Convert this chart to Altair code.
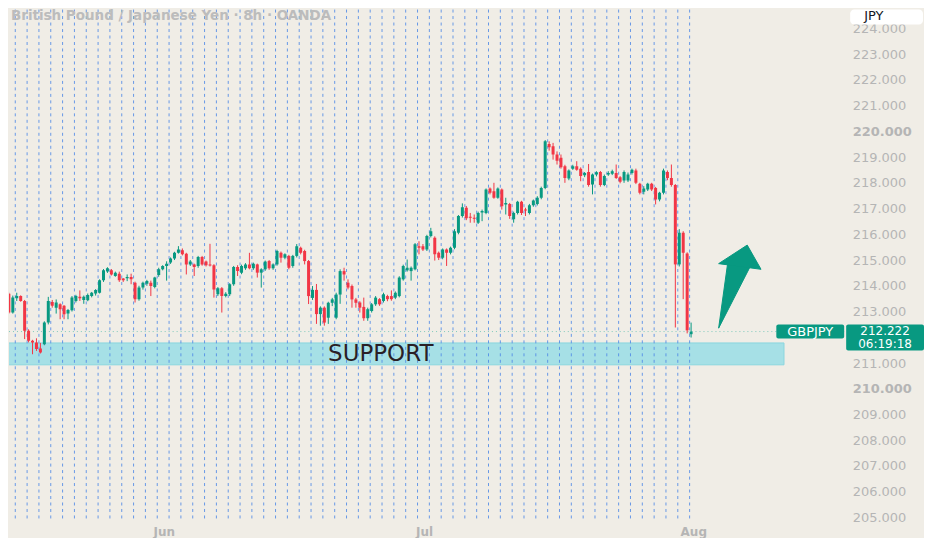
import altair as alt
import pandas as pd

# ---------------- data ----------------
opens = [213.69, 212.96, 213.52, 213.60, 213.41, 212.25, 211.86, 211.80, 211.56, 211.73,
         212.57, 213.37, 213.15, 213.28, 213.22, 212.92, 213.05, 213.41, 213.57, 213.45,
         213.44, 213.60, 213.70, 213.73, 214.21, 214.55, 214.60, 214.38, 214.47, 214.28,
         214.29, 214.34, 214.12, 213.48, 213.93, 214.08, 214.12, 213.95, 214.42, 214.64,
         214.77, 214.90, 215.06, 215.28, 215.38, 215.24, 214.83, 214.83, 214.77, 215.12,
         214.94, 214.83, 214.80, 213.67, 213.90, 213.60, 213.67, 214.06, 214.73, 214.51,
         214.68, 214.83, 214.68, 214.83, 214.51, 214.64, 214.96, 214.68, 214.83, 215.28,
         215.09, 215.16, 214.77, 215.16, 215.48, 215.35, 214.96, 213.53, 213.84, 212.90,
         213.15, 212.76, 213.34, 212.76, 213.66, 214.57, 214.12, 213.99, 213.47, 213.35,
         213.18, 212.74, 213.02, 213.28, 213.48, 213.41, 213.60, 213.60, 213.54, 213.60,
         214.25, 214.60, 214.57, 214.64, 215.54, 215.54, 215.41, 215.93, 215.87, 215.28,
         215.09, 215.41, 215.28, 215.48, 216.06, 216.71, 217.03, 216.68, 216.64, 216.45,
         216.85, 216.83, 217.78, 217.67, 217.42, 217.74, 217.16, 217.18, 216.58, 216.83,
         217.26, 216.96, 216.83, 217.13, 217.18, 217.42, 217.80, 219.51, 219.42, 219.10,
         218.97, 218.64, 218.17, 218.55, 218.64, 218.55, 218.29, 218.42, 217.93, 218.32,
         218.42, 217.91, 218.32, 218.35, 218.38, 218.22, 218.09, 218.09, 218.38, 218.48,
         217.96, 217.65, 217.74, 217.96, 217.80, 217.35, 217.61, 218.42, 218.19, 217.91,
         214.83, 216.06, 215.25, 212.12]
highs = [213.73, 213.62, 213.73, 213.63, 213.45, 212.31, 211.90, 211.96, 211.78, 212.62,
         213.57, 213.45, 213.47, 213.32, 213.25, 213.10, 213.60, 213.65, 213.82, 213.62,
         213.70, 213.76, 213.87, 214.25, 214.65, 214.72, 214.65, 214.55, 214.55, 214.30,
         214.44, 214.47, 214.16, 214.00, 214.16, 214.23, 214.20, 214.35, 214.70, 214.80,
         214.95, 215.10, 215.32, 215.54, 215.45, 215.28, 215.00, 214.86, 215.16, 215.16,
         214.98, 215.63, 214.84, 213.95, 213.95, 213.75, 214.10, 214.77, 214.80, 214.82,
         214.88, 215.28, 214.90, 214.86, 214.68, 214.98, 215.00, 214.87, 215.40, 215.33,
         215.26, 215.20, 215.20, 215.62, 215.52, 215.40, 215.00, 213.99, 214.07, 213.20,
         213.20, 213.38, 213.53, 213.73, 214.64, 214.70, 214.25, 214.05, 213.53, 213.40,
         213.54, 213.15, 213.33, 213.60, 213.52, 213.73, 213.65, 213.82, 213.78, 214.37,
         214.82, 215.02, 214.75, 215.66, 215.73, 215.62, 215.98, 216.25, 215.92, 215.33,
         215.45, 215.45, 215.52, 216.20, 216.75, 217.20, 217.10, 216.83, 216.77, 216.88,
         216.96, 217.78, 217.82, 218.00, 217.82, 217.78, 217.42, 217.22, 216.88, 217.30,
         217.30, 217.03, 217.18, 217.35, 217.48, 217.85, 219.66, 219.61, 219.55, 219.22,
         219.10, 218.70, 218.52, 218.70, 218.84, 218.60, 218.42, 218.73, 218.36, 218.45,
         218.46, 218.32, 218.45, 218.51, 218.71, 218.26, 218.48, 218.40, 218.55, 218.55,
         218.00, 217.87, 218.00, 218.00, 217.84, 217.65, 218.55, 218.48, 218.71, 217.95,
         216.20, 216.12, 215.30, 212.57]
lows = [212.92, 212.92, 213.41, 213.38, 211.93, 211.80, 211.34, 211.47, 211.37, 211.69,
        212.50, 213.15, 212.92, 212.70, 212.70, 212.70, 213.00, 213.35, 213.41, 213.30,
        213.40, 213.55, 213.62, 213.70, 214.15, 214.50, 214.40, 214.35, 214.15, 214.15,
        214.18, 214.06, 213.35, 213.42, 213.85, 214.00, 213.60, 213.90, 214.35, 214.60,
        214.20, 214.85, 215.00, 215.25, 215.18, 214.44, 214.77, 214.38, 214.70, 214.78,
        214.75, 214.75, 213.54, 213.60, 212.96, 213.55, 213.60, 214.00, 214.38, 214.45,
        214.62, 214.64, 214.62, 214.32, 213.93, 214.58, 214.62, 214.62, 214.78, 214.90,
        215.03, 214.64, 214.70, 215.10, 215.22, 214.83, 213.29, 213.45, 212.52, 212.45,
        212.45, 212.52, 213.21, 212.70, 213.30, 214.20, 213.86, 213.15, 213.15, 212.96,
        212.64, 212.64, 212.96, 213.22, 213.22, 213.35, 213.40, 213.42, 213.48, 213.55,
        214.20, 214.55, 214.20, 214.60, 215.22, 215.35, 215.35, 215.88, 214.98, 215.00,
        215.03, 214.77, 215.22, 215.42, 216.00, 216.65, 216.55, 216.45, 216.45, 216.40,
        216.51, 216.78, 217.55, 217.38, 217.38, 216.96, 216.77, 216.60, 216.45, 216.77,
        216.75, 216.71, 216.77, 217.07, 217.12, 217.36, 217.75, 219.25, 218.90, 218.71,
        218.55, 218.00, 218.10, 218.50, 218.47, 218.06, 218.22, 217.85, 217.55, 218.25,
        217.85, 217.87, 218.27, 218.30, 218.15, 217.98, 218.00, 218.03, 218.32, 217.95,
        217.55, 217.55, 217.68, 217.68, 217.16, 217.28, 217.55, 218.10, 217.85, 212.38,
        214.75, 213.48, 212.15, 211.99]
closes = [212.96, 213.54, 213.60, 213.41, 212.25, 211.86, 211.80, 211.54, 211.41, 212.57,
          213.41, 213.22, 213.35, 213.09, 212.89, 213.06, 213.54, 213.60, 213.52, 213.57,
          213.64, 213.73, 213.84, 214.21, 214.60, 214.68, 214.44, 214.51, 214.21, 214.21,
          214.34, 214.25, 213.48, 213.93, 214.12, 214.19, 213.99, 214.32, 214.64, 214.77,
          214.86, 215.06, 215.28, 215.41, 215.22, 214.83, 214.94, 214.73, 215.12, 214.83,
          214.80, 214.79, 213.86, 213.90, 213.60, 213.69, 214.06, 214.73, 214.57, 214.77,
          214.83, 214.68, 214.86, 214.51, 214.64, 214.94, 214.68, 214.83, 215.35, 215.09,
          215.22, 214.70, 215.16, 215.54, 215.28, 214.96, 213.60, 213.84, 212.90, 213.15,
          212.57, 213.34, 213.47, 213.66, 214.57, 214.44, 213.93, 213.47, 213.34, 213.15,
          212.74, 213.09, 213.28, 213.54, 213.28, 213.67, 213.48, 213.48, 213.73, 214.32,
          214.77, 214.70, 214.70, 215.61, 215.48, 215.41, 215.93, 216.12, 215.22, 215.09,
          215.41, 215.28, 215.48, 216.12, 216.71, 217.05, 216.62, 216.64, 216.60, 216.83,
          216.90, 217.74, 217.61, 217.42, 217.78, 217.09, 217.22, 216.71, 216.83, 217.26,
          216.83, 216.92, 217.13, 217.31, 217.42, 217.80, 219.61, 219.38, 219.10, 218.86,
          218.60, 218.19, 218.48, 218.64, 218.51, 218.26, 218.38, 217.91, 218.32, 218.41,
          217.91, 218.26, 218.38, 218.45, 218.19, 218.04, 218.42, 218.32, 218.51, 218.00,
          217.61, 217.78, 217.96, 217.74, 217.35, 217.61, 218.48, 218.19, 217.91, 214.83,
          216.06, 215.28, 212.27, 212.22]

# day separators (every 3 eight-hour candles)
day_lines = [1.625 + 3 * k for k in range(58)]

month_labels = ["Jun", "Jul", "Aug"]
month_pos = [39.3, 105.3, 173.55]

# price labels visible on the scale (212.000 is hidden behind the last-price tag)
price_ticks = [205, 206, 207, 208, 209, 210, 211, 213, 214, 215, 216, 217, 218,
               219, 220, 221, 222, 223, 224]

title_text = "British Pound / Japanese Yen · 8h · OANDA"
symbol = "GBPJPY"
currency = "JPY"
last_price = 212.222
countdown = "06:19:18"

support_text = "SUPPORT"
support_lo, support_hi = 210.93, 211.78
support_x0, support_x1 = -5, 196.55
support_label_x = 94.3

# arrow drawn as two triangles: shaft (tail, left joint, right joint) and head
arrow_part = ["shaft", "shaft", "shaft", "head", "head", "head"]
arrow_x = [179.98, 182.23, 188.05, 179.98, 187.23, 190.73]
arrow_y = [212.353, 214.833, 214.767, 214.86, 215.581, 214.64]

# ---------------- styling ----------------
BG = "#f0ede6"
GREEN = "#089981"
RED = "#f23645"
GRID = "#4f89e6"
AXIS_GREY = "#b5b5b5"
FONT = "DejaVu Sans"

W, H = 837, 512
xscale = alt.Scale(domain=[1.3, 210.55], nice=False, zero=False)
yscale = alt.Scale(domain=[204.884, 224.729], nice=False, zero=False)

label_expr = " : ".join(
    f"datum.value < {p + 5} ? '{m}'" for p, m in zip(month_pos[:-1], month_labels[:-1])
) + f" : '{month_labels[-1]}'"

xaxis = alt.Axis(values=month_pos, labelExpr=label_expr, ticks=False, domain=False,
                 grid=False, labelFont=FONT, labelFontSize=12, labelFontWeight="bold",
                 labelColor=AXIS_GREY, labelPadding=6, title=None, labelFlush=False)
yaxis = alt.Axis(orient="right", values=price_ticks, format=".3f", ticks=False,
                 domain=False, grid=False, labelFont=FONT, labelFontSize=13,
                 labelColor=AXIS_GREY, labelPadding=8, title=None,
                 labelFontWeight={"condition": {"test": "datum.value % 10 === 0",
                                                "value": "bold"}, "value": "normal"})

candles = pd.DataFrame({"i": list(range(len(opens))), "open": opens, "high": highs,
                        "low": lows, "close": closes})
color_cond = alt.condition("datum.open > datum.close", alt.value(RED), alt.value(GREEN))

X = lambda f: alt.X(f, scale=xscale, axis=xaxis)
Y = lambda f: alt.Y(f, scale=yscale, axis=yaxis)

support = alt.Chart(pd.DataFrame({"x0": [support_x0], "x1": [support_x1],
                                  "lo": [support_lo], "hi": [support_hi]})).mark_rect(
    fill="#a6e0e6", stroke="#8ad6df", strokeWidth=1, clip=True
).encode(x=X("x0:Q"), x2="x1:Q", y=Y("lo:Q"), y2="hi:Q")

grid = alt.Chart(pd.DataFrame({"d": day_lines})).mark_rule(
    color=GRID, strokeWidth=1, strokeDash=[3, 3.5], opacity=0.85
).encode(x=X("d:Q"))

last_rule = alt.Chart(pd.DataFrame({"p": [last_price]})).mark_rule(
    color="#7fc9bc", strokeWidth=1, strokeDash=[1, 3]
).encode(y=Y("p:Q"))

wicks = alt.Chart(candles).mark_rule(strokeWidth=1, clip=True).encode(
    x=X("i:Q"), y=Y("low:Q"), y2="high:Q", color=color_cond)

bodies = alt.Chart(candles).mark_bar(size=3, clip=True).encode(
    x=X("i:Q"), y=Y("open:Q"), y2="close:Q", color=color_cond)

arrow = alt.Chart(pd.DataFrame({"ax": arrow_x, "ay": arrow_y, "part": arrow_part,
                                "o": list(range(len(arrow_x)))})).mark_line(
    fill=GREEN, stroke=GREEN, strokeWidth=1, strokeJoin="round",
    interpolate="linear-closed"
).encode(x=X("ax:Q"), y=Y("ay:Q"), detail="part:N",
         order=alt.Order("o:Q", sort="ascending"))

title = alt.Chart(pd.DataFrame({"t": [title_text]})).mark_text(
    align="left", baseline="middle", font=FONT, fontSize=13.5, fontWeight="bold",
    color="#bcbcbc"
).encode(x=alt.value(2), y=alt.value(6), text="t:N")

support_lbl = alt.Chart(pd.DataFrame({"t": [support_text], "x": [support_label_x],
                                      "y": [(support_lo + support_hi) / 2]})).mark_text(
    align="center", baseline="middle", font=FONT, fontSize=23, color="#2a1f26"
).encode(x=X("x:Q"), y=Y("y:Q"), text="t:N")

lp = pd.DataFrame({"p": [last_price], "sym": [symbol],
                   "ps": [f"{last_price:.3f}"], "cd": [countdown]})

sym_box = alt.Chart(lp).mark_rect(fill=GREEN, cornerRadius=2, yOffset=-7, y2Offset=7).encode(
    x=alt.value(769), x2=alt.value(837), y=Y("p:Q"), y2="p:Q")
sym_txt = alt.Chart(lp).mark_text(font=FONT, fontSize=13, color="white",
                                  baseline="middle", align="center").encode(
    x=alt.value(803), y=Y("p:Q"), text="sym:N")

price_box = alt.Chart(lp).mark_rect(fill=GREEN, cornerRadius=2, yOffset=-7, y2Offset=19).encode(
    x=alt.value(839), x2=alt.value(917), y=Y("p:Q"), y2="p:Q")
price_txt = alt.Chart(lp).mark_text(font=FONT, fontSize=12, color="white",
                                    baseline="middle", align="center", dy=-0.5).encode(
    x=alt.value(878), y=Y("p:Q"), text="ps:N")
cd_txt = alt.Chart(lp).mark_text(font=FONT, fontSize=12, color="white",
                                 baseline="middle", align="center", dy=12).encode(
    x=alt.value(878), y=Y("p:Q"), text="cd:N")

cur = pd.DataFrame({"c": [currency]})
cur_box = alt.Chart(cur).mark_rect(fill="white", cornerRadius=4).encode(
    x=alt.value(843), x2=alt.value(916), y=alt.value(0), y2=alt.value(15))
cur_txt = alt.Chart(cur).mark_text(font=FONT, fontSize=13, color="#131722",
                                   align="left", baseline="middle").encode(
    x=alt.value(857), y=alt.value(6), text="c:N")

chart = alt.layer(
    support, grid, last_rule, wicks, bodies, arrow, title, support_lbl,
    sym_box, sym_txt, price_box, price_txt, cd_txt, cur_box, cur_txt
).properties(
    width=W, height=H, padding=0, background=BG
).configure_view(stroke=None)

chart.save("out.html", embed_options={"renderer": "svg", "actions": False})
